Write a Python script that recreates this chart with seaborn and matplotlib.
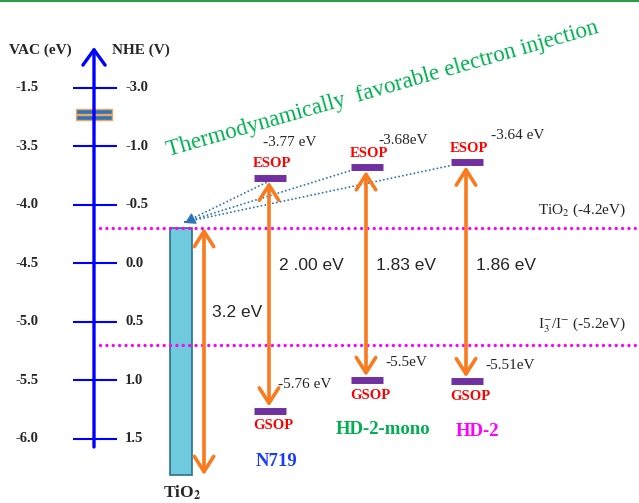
import matplotlib
matplotlib.use("Agg")
import matplotlib.pyplot as plt
import pandas as pd
import seaborn as sns

# ---------------- data ----------------
dyes = ["N719", "HD-2-mono", "HD-2"]
esop = [-3.77, -3.68, -3.64]
gsop = [-5.76, -5.50, -5.51]
esop_text = ["-3.77 eV", "-3.68eV", "-3.64 eV"]
gsop_text = ["-5.76 eV", "-5.5eV", "-5.51eV"]
gap_text = ["2 .00 eV", "1.83 eV", "1.86 eV"]
tio2_cb = -4.2
tio2_gap = 3.2
redox = -5.2
vac_ticks = [-1.5, -3.5, -4.0, -4.5, -5.0, -5.5, -6.0]
vac_labels = ["-1.5", "-3.5", "-4.0", "-4.5", "-5.0", "-5.5", "-6.0"]
nhe_labels = ["-3.0", "-1.0", "-0.5", "0.0", "0.5", "1.0", "1.5"]

# ---------------- layout / style ----------------
sns.set_theme(style="white")
plt.rcParams["font.family"] = ["Liberation Serif", "DejaVu Serif"]
plt.rcParams["mathtext.fontset"] = "stix"

W, H = 639, 503
K = 117.0                      # pixels per eV on the image
E_TOP = tio2_cb + 228 / K      # energy at the top row
E_BOT = E_TOP - H / K
PT = 72 / 100                  # points per pixel


def e_at(row):
    return E_TOP - row / K


dye_x = [270, 367, 467]
dye_colors = ["#1a3cff", "#00b050", "#ff00ff"]
ORANGE = "#fa7a1e"
PURPLE = "#7030a0"
MAGENTA = "#ff00ff"
INJ = "#2e75b6"
SERIF = ["Liberation Serif", "DejaVu Serif"]
SANS = ["Liberation Sans", "DejaVu Sans"]

fig = plt.figure(figsize=(W / 100, H / 100), dpi=100)
ax = fig.add_axes([0, 0, 1, 1])
ax.set_xlim(0, W)
ax.set_ylim(E_BOT, E_TOP)
ax.axis("off")

# top green rule
ax.axhline(E_TOP, color="#2e9a47", lw=3)

# ---------------- left energy scale ----------------
def vac_pos(v):
    # axis break above -3.5 eV: compressed section
    return v if v <= -3.5 else -3.5 + (v + 3.5) * 0.25

ax.annotate("", xy=(94, e_at(47)), xytext=(94, e_at(447)),
            arrowprops=dict(arrowstyle="->,head_length=0.55,head_width=0.4",
                            color="#0000ff", lw=2.4, mutation_scale=20,
                            shrinkA=0, shrinkB=0))
for v, vl, nl in zip(vac_ticks, vac_labels, nhe_labels):
    y = vac_pos(v)
    ax.hlines(y, 73, 117, color="#0000ff", lw=1.5)
    ax.text(27, y, vl, ha="center", va="center", fontsize=10.5,
            fontweight="bold", family=SERIF)
    ax.text(125, y, nl, ha="left", va="center", fontsize=10.5,
            fontweight="bold", family=SERIF)
# break marks
for yy in (e_at(111), e_at(117)):
    ax.barh(yy, 36, left=76, height=5 / K, color="#2e75b6",
            edgecolor="#f4a460", lw=1)
ax.text(40, e_at(50), "VAC (eV)", ha="center", va="center", fontsize=11,
        fontweight="bold", family=SERIF)
ax.text(141, e_at(50), "NHE (V)", ha="center", va="center", fontsize=11,
        fontweight="bold", family=SERIF)

# ---------------- reference levels ----------------
ref = pd.DataFrame({"x": [100, W, 100, W],
                    "E": [tio2_cb, tio2_cb, redox, redox],
                    "level": ["TiO2", "TiO2", "I3", "I3"]})
for lvl, d in ref.groupby("level"):
    sns.lineplot(data=d, x="x", y="E", ax=ax, color=MAGENTA, lw=2.4,
                 linestyle=(0, (0.01, 1.9)), dash_capstyle="round")
ax.text(538, tio2_cb + 9 / K, "TiO$_2$ (-4.2eV)", ha="left", va="bottom",
        fontsize=11, family=SERIF)
ax.text(538, redox + 10 / K, "I$_3^{-}$/I$^{-}$ (-5.2eV)", ha="left",
        va="bottom", fontsize=11, family=SERIF)

# ---------------- TiO2 block ----------------
tio2_bottom = e_at(475)   # band drawn schematically, truncated
ax.bar(181, tio2_cb - tio2_bottom, bottom=tio2_bottom, width=22,
       color="#6ecadc", edgecolor="#2a6f8f", lw=1.2)
ax.annotate("", xy=(204, tio2_bottom), xytext=(204, tio2_cb),
            arrowprops=dict(arrowstyle="<->,head_length=0.55,head_width=0.35",
                            color=ORANGE, lw=2.6, mutation_scale=20,
                            shrinkA=0, shrinkB=0))
ax.text(212, e_at(312), f"{tio2_gap} eV", ha="left", va="center",
        fontsize=12.5, family=SANS)
ax.text(182, e_at(484), "TiO$_\\mathbf{2}$", ha="center", va="top",
        fontsize=12.5, fontweight="bold", family=SERIF)

# ---------------- injection paths ----------------
for i in range(3):
    end_dx = [0, -15, -16][i]
    ax.plot([185, dye_x[i] + end_dx], [tio2_cb + 6 / K, esop[i] - 3 / K],
            color=INJ, lw=1.4, linestyle=(0, (0.01, 2.0)),
            dash_capstyle="round")
ax.annotate("", xy=(185, tio2_cb + 5 / K), xytext=(193, tio2_cb + 9 / K),
            arrowprops=dict(arrowstyle="-|>,head_length=0.5,head_width=0.3",
                            color=INJ, lw=1, mutation_scale=12,
                            shrinkA=0, shrinkB=0))

# ---------------- dyes ----------------
def lab(x, e, dx, dy, s, **kw):
    ax.annotate(s, (x, e), xytext=(dx * PT, -dy * PT),
                textcoords="offset points", **kw)

esop_lab_off = [(-7, -35), (11, -27), (24, -27)]
gsop_lab_off = [(8, -26), (18, -18), (18, -16)]
name_pos = [(277, 461), (383, 430), (477, 432)]
for i, name in enumerate(dyes):
    x = dye_x[i]
    ax.annotate("", xy=(x - 1, gsop[i] + 4 / K), xytext=(x - 1, esop[i] - 4 / K),
                arrowprops=dict(arrowstyle="<->,head_length=0.55,head_width=0.35",
                                color=ORANGE, lw=2.6, mutation_scale=20,
                                shrinkA=0, shrinkB=0))
    ax.hlines([esop[i], gsop[i]], x - 16, x + 16, color=PURPLE, lw=5)
    lab(x, esop[i], 2, -14, "ESOP", ha="center", va="center", color="#ff0000",
        fontsize=10.5, fontweight="bold", family=SERIF)
    lab(x, gsop[i], 3, 15, "GSOP", ha="center", va="center", color="#ff0000",
        fontsize=10.5, fontweight="bold", family=SERIF)
    lab(x, esop[i], *esop_lab_off[i], esop_text[i], ha="left", va="center",
        fontsize=11, family=SERIF)
    lab(x, gsop[i], *gsop_lab_off[i], gsop_text[i], ha="left", va="center",
        fontsize=11, family=SERIF)
    ax.text(x + 9, e_at(266), gap_text[i], ha="left", va="center",
            fontsize=12.5, family=SANS)
    nx, ny = name_pos[i]
    ax.text(nx, e_at(ny), name, ha="center", va="center", color=dye_colors[i],
            fontsize=13.5, fontweight="bold", family=SERIF)

ax.text(383, e_at(89), "Thermodynamically  favorable electron injection",
        rotation=16, rotation_mode="anchor", ha="center", va="center",
        color="#00b050", fontsize=16.5, family=SERIF)

fig.savefig("out.png", dpi=100)
